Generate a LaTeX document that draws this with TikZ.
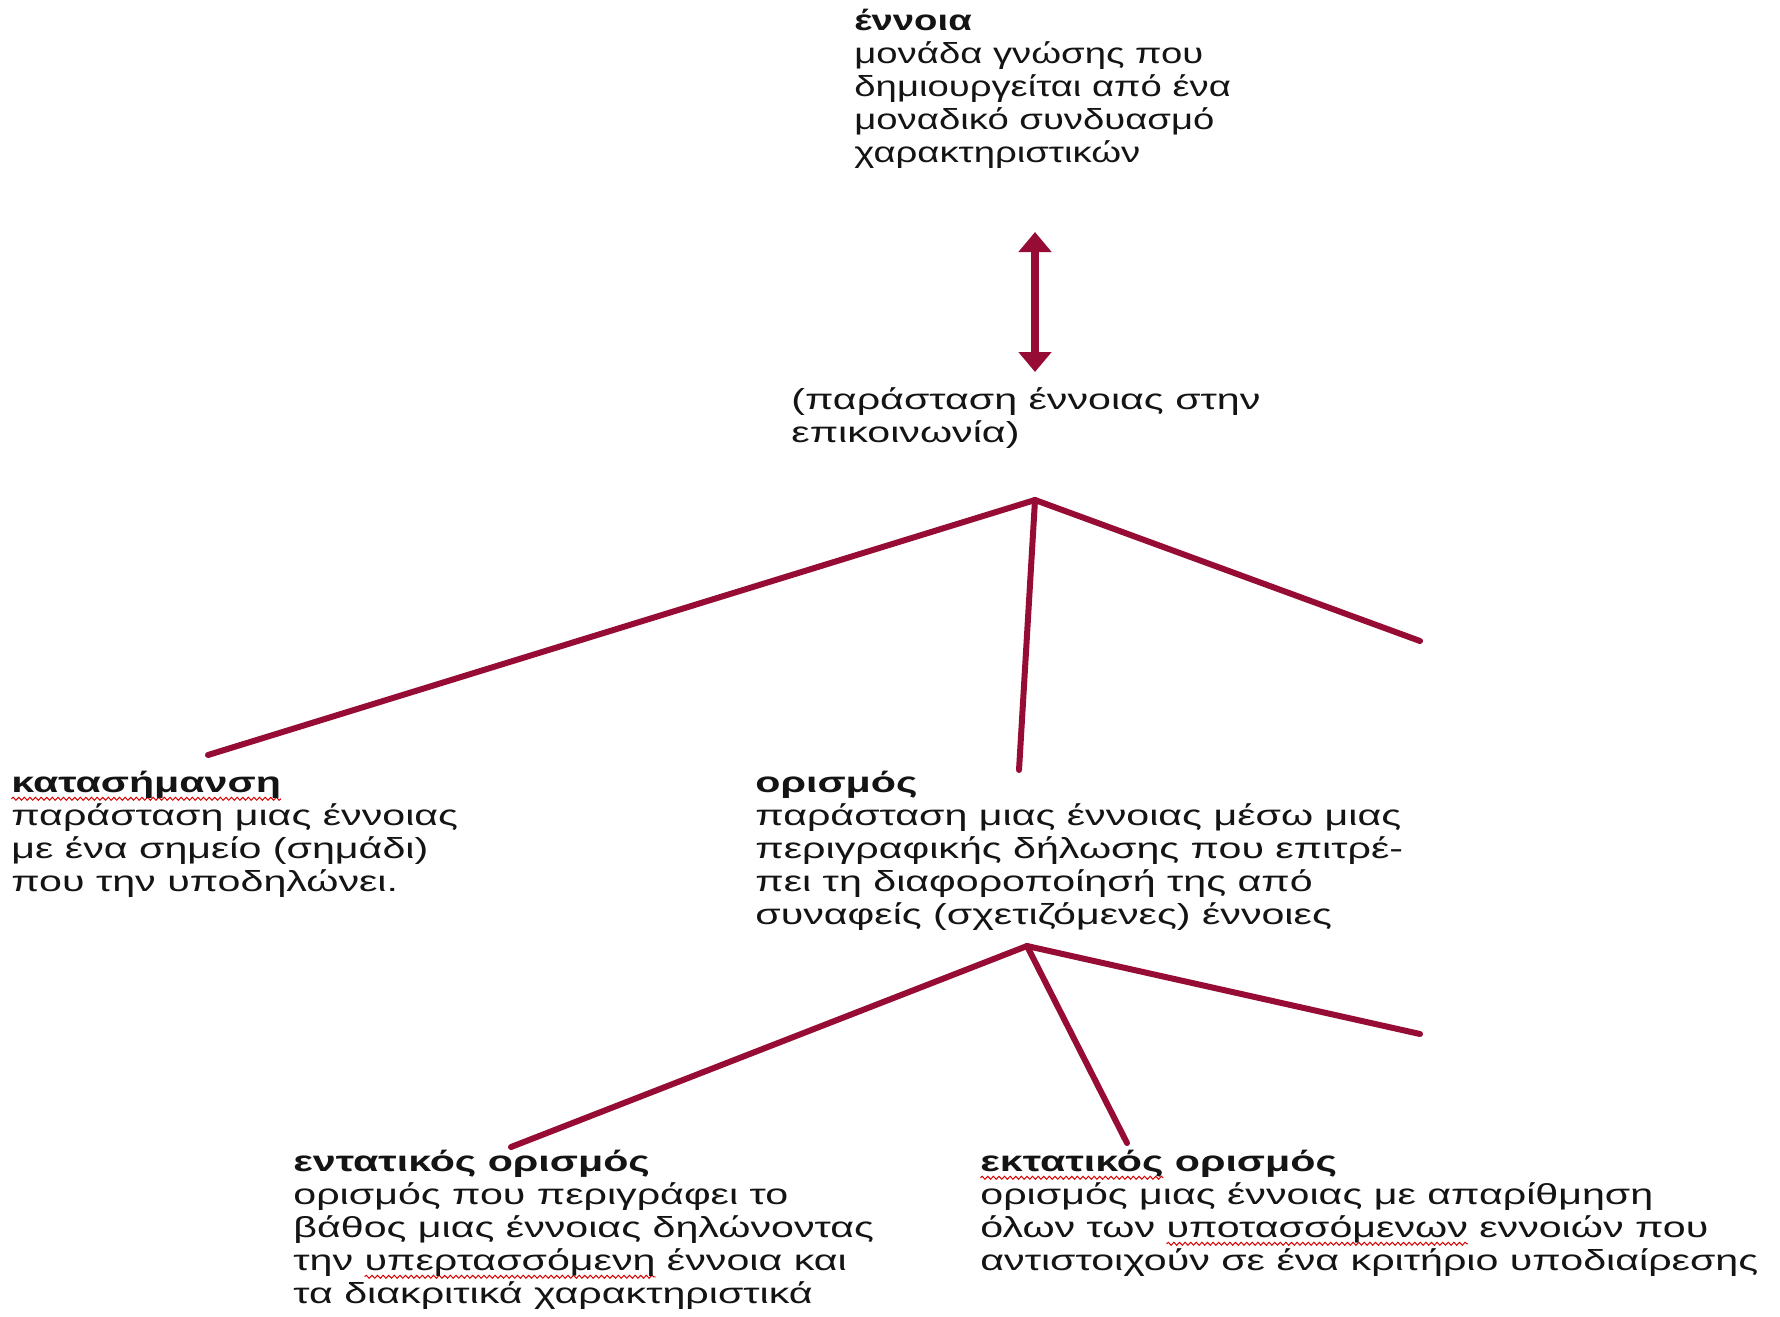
\documentclass[tikz,border=0pt]{standalone}
\usepackage{fontspec}
\setmainfont[FakeStretch=1.42]{Liberation Sans}
\newfontfamily\topfont[FakeStretch=1.32]{Liberation Sans}
\usetikzlibrary{arrows.meta,decorations.pathmorphing}
\definecolor{linered}{RGB}{150,12,52}
\definecolor{txt}{RGB}{20,20,20}
\newsavebox\errbox
\newcommand\spellerr[1]{\sbox\errbox{#1}\leavevmode\rlap{\begin{tikzpicture}[x=1pt,y=1pt,baseline=0pt]\path (0,0);\draw[overlay,red!85!black,line width=0.5pt,decorate,decoration={snake,amplitude=0.75pt,segment length=2.8pt}] (0,-3) -- (\wd\errbox,-3);\end{tikzpicture}}\usebox\errbox}
\begin{document}
\begin{tikzpicture}[x=0.5pt,y=-0.5pt,
  txtbox/.style={anchor=north west,align=left,inner sep=0pt,text=txt,
    font=\fontsize{14.5}{16.5}\selectfont},
  conn/.style={draw=linered,line width=3pt,line cap=round},
  dbl/.style={draw=linered,line width=4pt,{Triangle[width=16pt,length=10pt]}-{Triangle[width=16pt,length=10pt]}}]
\useasboundingbox[fill=white] (0,0) rectangle (1780,1316);

\node[txtbox,font=\topfont\fontsize{14.5}{16.5}\selectfont] (concept) at (854,9) {\textbf{έννοια}\\μονάδα γνώσης που\\δημιουργείται από ένα\\μοναδικό συνδυασμό\\χαρακτηριστικών};
\node[txtbox] (repr) at (791,387) {(παράσταση έννοιας στην\\επικοινωνία)};
\node[txtbox] (label) at (11,771) {\textbf{\spellerr{κατασήμανση}}\\παράσταση μιας έννοιας\\με ένα σημείο (σημάδι)\\που την υποδηλώνει.};
\node[txtbox] (defn) at (755,771) {\textbf{ορισμός}\\παράσταση μιας έννοιας μέσω μιας\\περιγραφικής δήλωσης που επιτρέ-\\πει τη διαφοροποίησή της από\\συναφείς (σχετιζόμενες) έννοιες};
\node[txtbox] (intens) at (293,1150) {\textbf{εντατικός ορισμός}\\ορισμός που περιγράφει το\\βάθος μιας έννοιας δηλώνοντας\\την \spellerr{υπερτασσόμενη} έννοια και\\τα διακριτικά χαρακτηριστικά};
\node[txtbox] (extens) at (980,1150) {\textbf{\spellerr{εκτατικός} ορισμός}\\ορισμός μιας έννοιας με απαρίθμηση\\όλων των \spellerr{υποτασσόμενων} εννοιών που\\αντιστοιχούν σε ένα κριτήριο υποδιαίρεσης};

\coordinate (arrtop) at (1035,232);
\coordinate (arrbot) at (1035,372);
\draw[dbl] (arrtop) -- (arrbot);

\coordinate (apex1) at (1035,500);
\coordinate (end1l) at (208,755);
\coordinate (end1m) at (1019,770);
\coordinate (end1r) at (1420,641);
\draw[conn] (apex1) -- (end1l);
\draw[conn] (apex1) -- (end1m);
\draw[conn] (apex1) -- (end1r);

\coordinate (apex2) at (1027,946);
\coordinate (end2l) at (511,1147);
\coordinate (end2m) at (1127,1143);
\coordinate (end2r) at (1420,1034);
\draw[conn] (apex2) -- (end2l);
\draw[conn] (apex2) -- (end2m);
\draw[conn] (apex2) -- (end2r);
\end{tikzpicture}
\end{document}
